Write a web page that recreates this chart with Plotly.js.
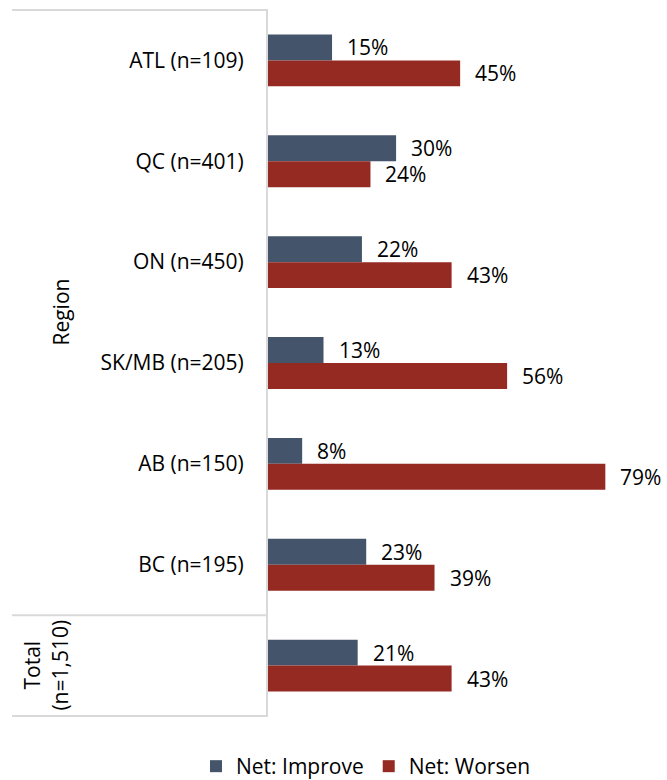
<!DOCTYPE html>
<html>
<head>
<meta charset="utf-8">
<script src="https://cdn.plot.ly/plotly-3.0.1.min.js"></script>
<style>
  html, body { margin: 0; padding: 0; background: #fff; }
  #chart { width: 667px; height: 780px; }
</style>
</head>
<body>
<div id="chart"></div>
<script>
// Categories (top to bottom) and their axis labels
const categories = ['ATL', 'QC', 'ON', 'SK/MB', 'AB', 'BC', 'Total'];
const regionLabels = ['ATL (n=109)', 'QC (n=401)', 'ON (n=450)', 'SK/MB (n=205)', 'AB (n=150)', 'BC (n=195)'];
const totalLabel = 'Total<br>(n=1,510)';
const groupLabel = 'Region';

// Series values (shares)
const netImprove = [0.15, 0.30, 0.22, 0.13, 0.08, 0.23, 0.21];
const netWorsen  = [0.45, 0.24, 0.43, 0.56, 0.79, 0.39, 0.43];

const seriesNames = ['Net: Improve', 'Net: Worsen'];
const colors = ['#44546A', '#952A23'];

const W = 667, H = 780;
const M = { l: 268, r: 0, t: 9, b: 63, autoexpand: false };
const plotW = W - M.l - M.r;
const font = 'Open Sans, sans-serif';
const fs = 21;
const lineColor = '#d9d9d9';

const traces = [netImprove, netWorsen].map((vals, i) => ({
  type: 'bar',
  orientation: 'h',
  name: seriesNames[i],
  y: categories,
  x: vals,
  marker: { color: colors[i] },
  hoverinfo: 'skip'
}));

// value labels beside each bar
const annotations = [];
[netImprove, netWorsen].forEach((vals, i) => {
  vals.forEach((v, j) => {
    annotations.push({
      x: v, y: categories[j], xref: 'x', yref: 'y',
      text: Math.round(v * 100) + '%',
      showarrow: false, xanchor: 'left', yanchor: 'middle',
      xshift: 13, yshift: i === 0 ? 13 : -13,
      font: { family: font, size: fs, color: '#000' }
    });
  });
});

// px -> paper x
const px = (p) => (p - M.l) / plotW;

annotations.push({
  x: px(61), y: 2.5, xref: 'paper', yref: 'y',
  text: groupLabel, textangle: -90, showarrow: false,
  xanchor: 'center', yanchor: 'middle',
  font: { family: font, size: fs, color: '#000' }
});
annotations.push({
  x: px(46), y: 'Total', xref: 'paper', yref: 'y',
  text: totalLabel, textangle: -90, showarrow: false,
  xanchor: 'center', yanchor: 'middle',
  font: { family: font, size: fs, color: '#000' }
});

// group separators in the label column
const shapes = [-0.5, 5.5, 6.5].map(yv => ({
  type: 'line', xref: 'paper', yref: 'y',
  x0: px(12), x1: 0, y0: yv, y1: yv,
  line: { color: lineColor, width: 2 }
}));

const layout = {
  width: W, height: H,
  margin: M,
  paper_bgcolor: '#fff', plot_bgcolor: '#fff',
  barmode: 'group',
  bargap: 0.486,
  bargroupgap: 0,
  font: { family: font, size: fs, color: '#000' },
  xaxis: {
    range: [0, plotW / 427],
    visible: false, showgrid: false, zeroline: false, fixedrange: true
  },
  yaxis: {
    type: 'category',
    categoryorder: 'array', categoryarray: categories,
    autorange: 'reversed',
    tickvals: categories.slice(0, 6),
    ticktext: regionLabels,
    ticks: '', ticklabelstandoff: 18,
    showline: true, linecolor: lineColor, linewidth: 2,
    showgrid: false, zeroline: false,
    tickfont: { family: font, size: fs, color: '#000' }
  },
  legend: {
    orientation: 'h', x: px(366), xanchor: 'center',
    y: -0.041, yanchor: 'top',
    font: { family: font, size: fs, color: '#000' },
    itemclick: false, itemdoubleclick: false
  },
  shapes: shapes,
  annotations: annotations,
  showlegend: true
};

Plotly.newPlot('chart', traces, layout, { displayModeBar: false, staticPlot: true });
</script>
</body>
</html>
